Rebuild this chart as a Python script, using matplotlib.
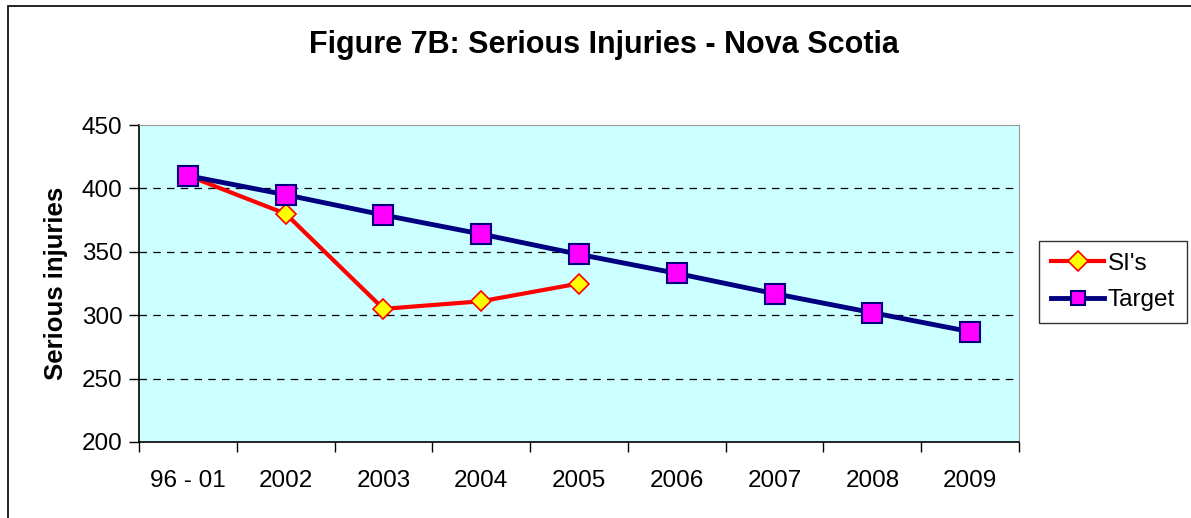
import numpy as np
import matplotlib
matplotlib.use("Agg")
import matplotlib.pyplot as plt
from matplotlib.patches import Rectangle

# data
categories = ["96 - 01", "2002", "2003", "2004", "2005", "2006", "2007", "2008", "2009"]
si_values = [410, 380, 305, 311, 325]
target_values = [410, 395, 379, 364, 348, 333, 317, 302, 287]

plt.rcParams['font.family'] = ['Liberation Sans', 'DejaVu Sans']

fig = plt.figure(figsize=(11.91, 5.18), dpi=100)
fig.patch.set_facecolor('white')

# outer chart frame
fig.patches.append(Rectangle((8 / 1191, -0.05), 1.2, 1 - 6 / 518 + 0.05, transform=fig.transFigure,
                             fill=False, edgecolor='black', linewidth=1.2))

ax = fig.add_axes([139 / 1191, 1 - 442 / 518, (1019 - 139) / 1191, (442 - 125) / 518])
ax.set_facecolor('#ccffff')

x = np.arange(len(categories))
ax.plot(x[:len(si_values)], si_values, color='#ff0000', linewidth=3, marker='D', markersize=10,
        markerfacecolor='#ffff00', markeredgecolor='#ff0000', markeredgewidth=1.2, label="SI's", zorder=3)
ax.plot(x, target_values, color='#000080', linewidth=3.5, marker='s', markersize=14,
        markerfacecolor='#ff00ff', markeredgecolor='#000080', markeredgewidth=1.5, label='Target', zorder=4)

ax.set_xlim(-0.5, len(categories) - 0.5)
ax.set_ylim(200, 450)
ax.set_yticks(np.arange(200, 451, 50))
ax.set_xticks(x)
ax.set_xticklabels(categories)
ax.set_xticks(np.arange(-0.5, len(categories), 1), minor=True)
ax.tick_params(axis='x', which='major', length=0, pad=20, labelsize=17.5)
ax.tick_params(axis='x', which='minor', length=7, direction='out', width=1)
ax.tick_params(axis='y', length=7, direction='out', width=1, pad=5, labelsize=17.5)

for v in [250, 300, 350, 400]:
    ax.axhline(v, color='black', linestyle=(0, (6, 5)), linewidth=0.9, zorder=1)

for side in ['top', 'right']:
    ax.spines[side].set_color('#999999')
for side in ['left', 'bottom']:
    ax.spines[side].set_color('black')
    ax.spines[side].set_linewidth(1.2)

ax.set_ylabel('Serious injuries', fontsize=18.5, fontweight='bold', labelpad=10)

fig.text(0.507, 1 - 45 / 518, 'Figure 7B: Serious Injuries - Nova Scotia', ha='center', va='center',
         fontsize=22, fontweight='bold')

leg = fig.legend(loc='center', bbox_to_anchor=(1113 / 1191, 1 - 282 / 518), fontsize=17.5,
                 frameon=True, fancybox=False, edgecolor='black', handlelength=2.2,
                 borderpad=0.5, labelspacing=0.6, handletextpad=0.15, borderaxespad=0)
leg.get_frame().set_linewidth(1)
for h in leg.legend_handles:
    h.set_markersize(10)

fig.savefig('out.png', dpi=100)
